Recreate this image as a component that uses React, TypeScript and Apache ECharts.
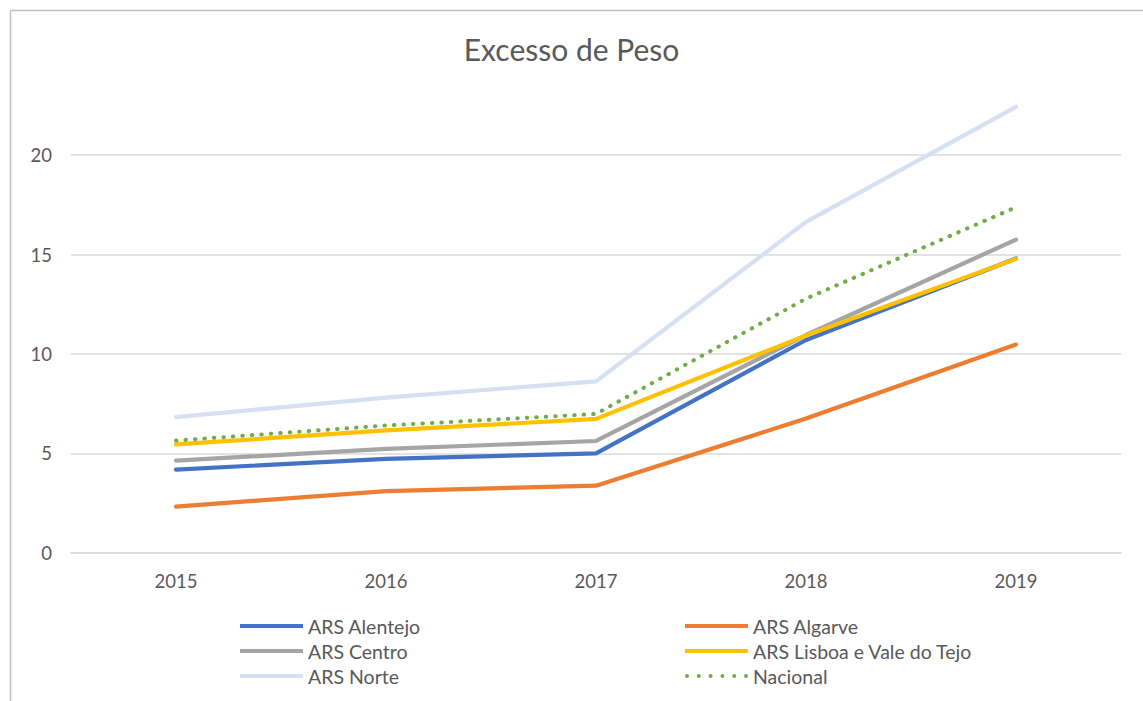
import React, { useEffect, useRef } from "react";
import * as echarts from "echarts";

const years = ["2015", "2016", "2017", "2018", "2019"];
const alentejo = [4.18, 4.72, 5.0, 10.7, 14.8];
const algarve = [2.32, 3.1, 3.37, 6.75, 10.47];
const centro = [4.63, 5.22, 5.62, 10.95, 15.75];
const lisboa = [5.45, 6.15, 6.73, 10.93, 14.78];
const norte = [6.82, 7.8, 8.62, 16.64, 22.43];
const nacional = [5.64, 6.4, 6.98, 12.78, 17.38];

const FONT = "Lato, 'Noto Sans', sans-serif";
const TXT = "#595959";

const dotsPath = (() => {
  let d = "path://";
  for (let i = 0; i < 6; i++) {
    const x = i * 11.8;
    d += `M${x.toFixed(2)},2a2,2 0 1,0 4,0a2,2 0 1,0 -4,0Z`;
  }
  return d;
})();

export default function App() {
  const ref = useRef<HTMLDivElement>(null);
  useEffect(() => {
    document.body.style.margin = "0";
    const chart = echarts.init(ref.current!, null, { renderer: "svg" });
    const mk = (name: string, data: number[], color: string, dotted = false) => ({
      name,
      type: "line",
      data,
      symbol: "none",
      showSymbol: false,
      z: dotted ? 10 : 2,
      lineStyle: dotted
        ? { color, width: 4, type: [0.5, 9], cap: "round" }
        : { color, width: 4.2, cap: "round", join: "round" },
      itemStyle: { color },
    });
    const legendCommon = {
      orient: "vertical",
      top: 611,
      itemWidth: 63,
      itemHeight: 4,
      itemGap: 5,
      textStyle: { fontFamily: FONT, fontSize: 19.5, color: TXT, lineHeight: 20 },
    };
    chart.setOption({
      animation: false,
      backgroundColor: "#ffffff",
      title: {
        text: "Excesso de Peso",
        left: "center",
        top: 29,
        textStyle: { fontFamily: FONT, fontSize: 30, fontWeight: "normal", color: TXT },
      },
      graphic: [
        { type: "line", shape: { x1: 10.5, y1: 10.5, x2: 1143, y2: 10.5 }, style: { stroke: "#BFBFBF", lineWidth: 1.5 } },
        { type: "line", shape: { x1: 10.5, y1: 10.5, x2: 10.5, y2: 701 }, style: { stroke: "#BFBFBF", lineWidth: 1.5 } },
      ],
      grid: { left: 71, right: 22, top: 55.7, bottom: 148.3, containLabel: false },
      xAxis: {
        type: "category",
        data: years,
        boundaryGap: true,
        axisLine: { show: true, lineStyle: { color: "#D9D9D9", width: 1.5 } },
        axisTick: { show: false },
        axisLabel: { fontFamily: FONT, fontSize: 18.5, color: TXT, margin: 19 },
      },
      yAxis: {
        type: "value",
        min: 0,
        max: 25,
        interval: 5,
        axisLine: { show: false },
        axisTick: { show: false },
        axisLabel: { fontFamily: FONT, fontSize: 18.5, color: TXT, margin: 19, showMaxLabel: false },
        splitLine: { show: true, showMaxLine: false, lineStyle: { color: "#D9D9D9", width: 1.5 } },
      },
      legend: [
        {
          ...legendCommon,
          left: 235,
          data: [
            { name: "ARS Alentejo", icon: "rect" },
            { name: "ARS Centro", icon: "rect" },
            { name: "ARS Norte", icon: "rect" },
          ],
        },
        {
          ...legendCommon,
          left: 680,
          data: [
            { name: "ARS Algarve", icon: "rect" },
            { name: "ARS Lisboa e Vale do Tejo", icon: "rect" },
            { name: "Nacional", icon: dotsPath },
          ],
        },
      ],
      series: [
        mk("ARS Alentejo", alentejo, "#4472C4"),
        mk("ARS Algarve", algarve, "#ED7D31"),
        mk("ARS Centro", centro, "#A5A5A5"),
        mk("ARS Lisboa e Vale do Tejo", lisboa, "#FFC000"),
        mk("ARS Norte", norte, "#D6E0F2"),
        mk("Nacional", nacional, "#70AD47", true),
      ],
    });
    return () => chart.dispose();
  }, []);
  return <div ref={ref} style={{ width: 1143, height: 701 }} />;
}
